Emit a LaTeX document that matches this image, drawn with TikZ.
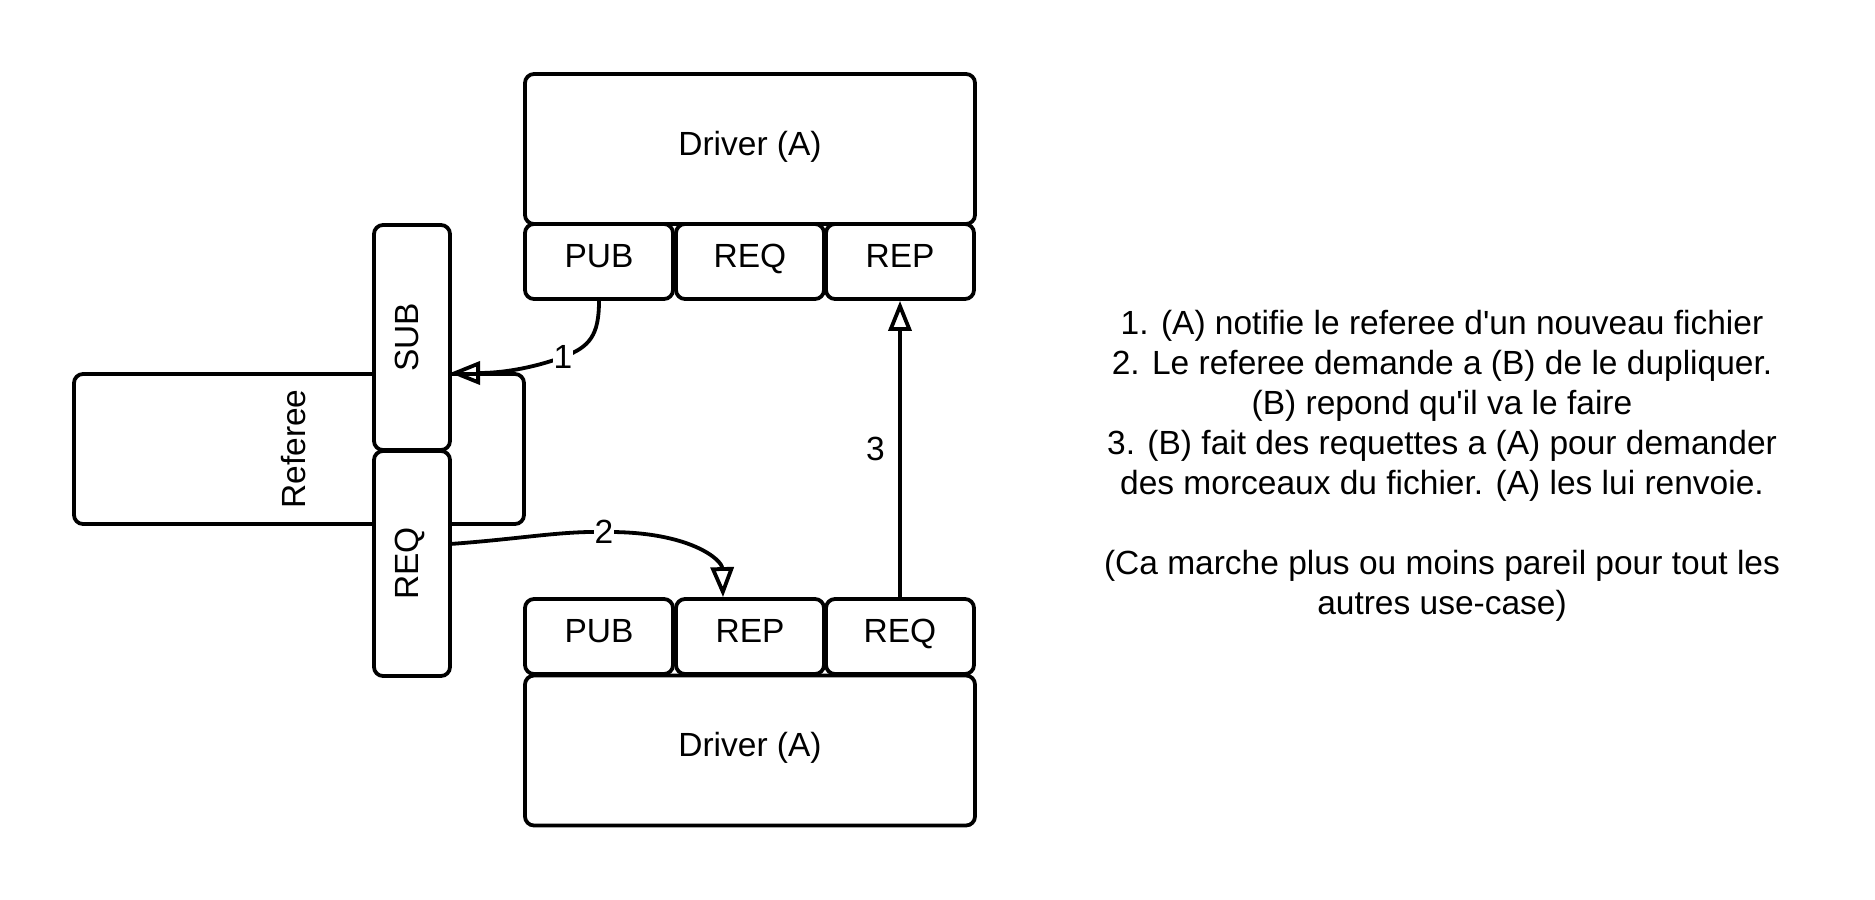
\documentclass[tikz,border=0pt]{standalone}
\usepackage{fontspec}
\setmainfont{Liberation Sans}
\usetikzlibrary{arrows.meta}
\begin{document}
\begin{tikzpicture}[x=1pt,y=-1pt,
  every node/.style={font=\fontsize{33.5}{40}\selectfont},
  box/.style={draw, line width=3.8pt, rounded corners=9pt, fill=white, inner sep=0pt, text height=24pt, text depth=12pt},
  portbox/.style={box, minimum width=148pt, minimum height=75pt},
  drvbox/.style={box, minimum width=450pt, minimum height=150pt},
  vport/.style={box, rotate=90, minimum width=225pt, minimum height=76pt},
  conn/.style={line width=3.8pt, arrows={-Triangle[open, length=30pt 0 0, width=23pt 0 0]}},
  lbl/.style={fill=white, inner sep=1pt}
]
\useasboundingbox (0,0) rectangle (1875,900);

% top driver
\node[drvbox] (drvA) at (750,149) {Driver (A)};
\node[portbox] (pub1) at (599,261.5) {PUB};
\node[portbox] (req1) at (750,261.5) {REQ};
\node[portbox] (rep1) at (900,261.5) {REP};

% bottom driver
\node[portbox] (pub2) at (599,636.5) {PUB};
\node[portbox] (rep2) at (750,636.5) {REP};
\node[portbox] (req2) at (900,636.5) {REQ};
\node[drvbox] (drvB) at (750,750.5) {Driver (A)};

% referee
\node[drvbox] (ref) at (299,449) {};
\node[rotate=90] (reflbl) at (294,449) {Referee};
\node[vport] (sub) at (412,337.5) {SUB};
\node[vport] (reqr) at (412,563.5) {REQ};

% connectors
\draw[conn] (pub1.south) .. controls (599,335) and (590,347) .. (563,357) node[lbl] (l1) {1}
  .. controls (530,369) and (500,373) .. (450,373);
\draw[conn] (450,544) .. controls (520,539) and (560,531) .. (604,532) node[lbl] (l2) {2}
  .. controls (690,531) and (722,560) .. ([xshift=-27pt]rep2.north);
\draw[conn] (req2.north) -- (rep1.south) node[pos=0.5, left=10pt] (l3) {3};

% explanation
\node[align=center] (txt) at (1442,466) {1. (A) notifie le referee d\textquotesingle un nouveau fichier\\
2. Le referee demande a (B) de le dupliquer.\\
(B) repond qu\textquotesingle il va le faire\\
3. (B) fait des requettes a (A) pour demander\\
des morceaux du fichier. (A) les lui renvoie.\\[40pt]
(Ca marche plus ou moins pareil pour tout les\\
autres use-case)};
\end{tikzpicture}
\end{document}
